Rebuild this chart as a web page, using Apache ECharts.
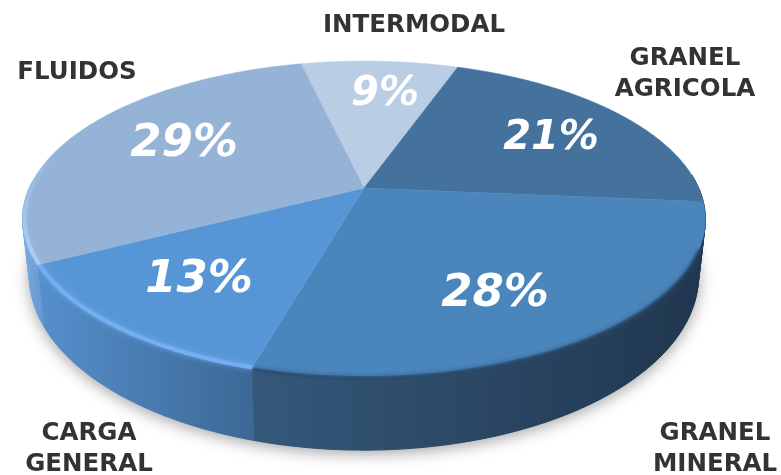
<!DOCTYPE html>
<html><head><meta charset="utf-8">
<style>html,body{margin:0;padding:0;background:#fff}#c{width:781px;height:475px}</style>
<script src="https://cdn.jsdelivr.net/npm/echarts@6/dist/echarts.min.js"></script>
</head><body><div id="c"></div>
<script>
const categories = ['INTERMODAL', 'GRANEL\nAGRICOLA', 'GRANEL\nMINERAL', 'CARGA\nGENERAL', 'FLUIDOS'];
const shares = [9, 21, 28, 13, 29];

// look of each slice, in the same order as the data
const topColors = ['#b9cde5', '#44729d', '#4a85bb', '#5796d6', '#95b3d7'];
const sideStops = [
  null, ['#1f364e', '#1f364e'], ['#35587a', '#20364e'],
  ['#5590cd', '#3c6895'], ['#7caadf', '#6497d2']
];
const rimColors = [null, null, '#2a4a6c', '#74b0f2', '#a9cef8'];
const labelPos = [[414, 26], [685, 74], [715, 449], [89, 449], [77, 73]];
const valuePos = [[385, 95], [551, 139], [495, 294], [199, 280], [184, 144]];
const valueFont = [40, 40, 45, 45, 45];

// perspective model of the tilted disc: top face and bottom ring
const CX = 364, CY = 188, D = 5.05, FX = 1690, FY = 768, START = -13;
const BOTTOM_CY = 241, BOTTOM_FY = 847, BOTTOM_SCALE = 0.98, SIDE_FROM = 85, SIDE_TO = 272;

function project(deg, r, bottom) {
  const t = deg * Math.PI / 180, X = r * Math.sin(t), Y = r * Math.cos(t);
  const k = 1 / (D + Y);
  if (bottom) return [CX + BOTTOM_SCALE * FX * X * k, BOTTOM_CY - BOTTOM_FY * Y * k];
  return [CX + FX * X * k, CY - FY * Y * k];
}
function range(i) {
  const sum = shares.reduce((a, b) => a + b, 0);
  let a = START;
  for (let k = 0; k < i; k++) a += shares[k] / sum * 360;
  return [a, a + shares[i] / sum * 360];
}
function arc(a, b, r, bottom) {
  const pts = [], n = Math.max(2, Math.ceil(Math.abs(b - a)));
  for (let k = 0; k <= n; k++) pts.push(project(a + (b - a) * k / n, r, bottom));
  return pts;
}
const seriesData = shares.map((v, i) => ({ name: categories[i], value: [v] }));

function renderSide(params, api) {
  const i = params.dataIndex, [a0, b0] = range(i);
  const a = Math.max(a0, SIDE_FROM), b = Math.min(b0, SIDE_TO);
  if (!sideStops[i] || b <= a) return null;
  const [c0, c1] = sideStops[i];
  const top = arc(a, b, 1, false), low = arc(a, b, 1, true);
  const xs = top.concat(low).map(p => p[0]);
  const fill = { type: 'linear', x: Math.min(...xs), y: 0, x2: Math.max(...xs), y2: 0, global: true,
    colorStops: [{ offset: 0, color: c0 }, { offset: 1, color: c1 }] };
  // quads keep the silhouette whole where the rims cross; the single polygon on top smooths the body
  const children = [];
  for (let k = 0; k + 1 < top.length; k++) {
    children.push({ type: 'polygon', shape: { points: [top[k], top[k + 1], low[k + 1], low[k]] },
      style: { fill, stroke: fill, lineWidth: 0.6 } });
  }
  children.push({ type: 'polygon', shape: { points: top.concat(low.slice().reverse()) },
    style: { fill, stroke: fill, lineWidth: 0.6 } });
  return { type: 'group', children };
}
function renderShadow(params, api) {
  return {
    type: 'polygon',
    shape: { points: arc(SIDE_FROM, SIDE_TO, 1, true).concat(arc(SIDE_TO, SIDE_FROM, 0.9, true)) },
    style: { fill: '#bbb', shadowBlur: 16, shadowColor: 'rgba(0,0,0,0.38)', shadowOffsetY: 3 }
  };
}
function renderTop(params, api) {
  const i = params.dataIndex, [a, b] = range(i);
  const children = [{
    type: 'polygon',
    shape: { points: [project(0, 0, false)].concat(arc(a, b, 1, false)) },
    style: { fill: topColors[i], stroke: topColors[i], lineWidth: 0.5 }
  }];
  if (rimColors[i]) {
    const e = Math.min(b, 292), dark = i === 2;
    children.push({
      type: 'polyline',
      shape: { points: arc(Math.max(a, dark ? 112 : 100), e, dark ? 1 : 0.994, false) },
      style: { fill: null, lineWidth: dark ? 3 : 4, opacity: dark ? 0.7 : 0.9,
        stroke: i === 4 ? { type: 'linear', x: 0, y: 150, x2: 0, y2: 250, global: true,
          colorStops: [{ offset: 0, color: 'rgba(169,206,248,0)' }, { offset: 1, color: rimColors[i] }] } : rimColors[i],
        shadowBlur: 5, shadowColor: i === 4 ? 'rgba(169,206,248,0.3)' : rimColors[i] }
    });
  }
  return { type: 'group', children };
}
function renderText(params, api) {
  const i = params.dataIndex, p = valuePos[i], q = labelPos[i];
  return {
    type: 'group',
    children: [{
      type: 'text',
      style: { x: p[0], y: p[1], text: api.value(0) + '%', align: 'center', verticalAlign: 'middle',
        font: 'italic bold ' + valueFont[i] + 'px "DejaVu Sans"', fill: '#fff',
        shadowBlur: (i === 0 || i === 1) ? 3 : 0, shadowColor: 'rgba(0,0,0,0.45)', shadowOffsetX: 1, shadowOffsetY: 2 }
    }, {
      type: 'text',
      style: { x: q[0], y: q[1], text: categories[i], align: 'center', verticalAlign: 'middle',
        font: 'bold 24.5px "DejaVu Sans"', lineHeight: 31, fill: '#333333' }
    }]
  };
}
const custom = (renderItem, z, data) => ({ type: 'custom', coordinateSystem: 'none', renderItem, z, data, silent: true, animation: false, clip: false });
const chart = echarts.init(document.getElementById('c'), null, { renderer: 'canvas' });
chart.setOption({
  animation: false,
  backgroundColor: '#ffffff',
  series: [
    custom(renderShadow, 1, [seriesData[0]]),
    custom(renderSide, 2, seriesData),
    custom(renderTop, 3, seriesData),
    custom(renderText, 4, seriesData)
  ]
});
</script></body></html>
